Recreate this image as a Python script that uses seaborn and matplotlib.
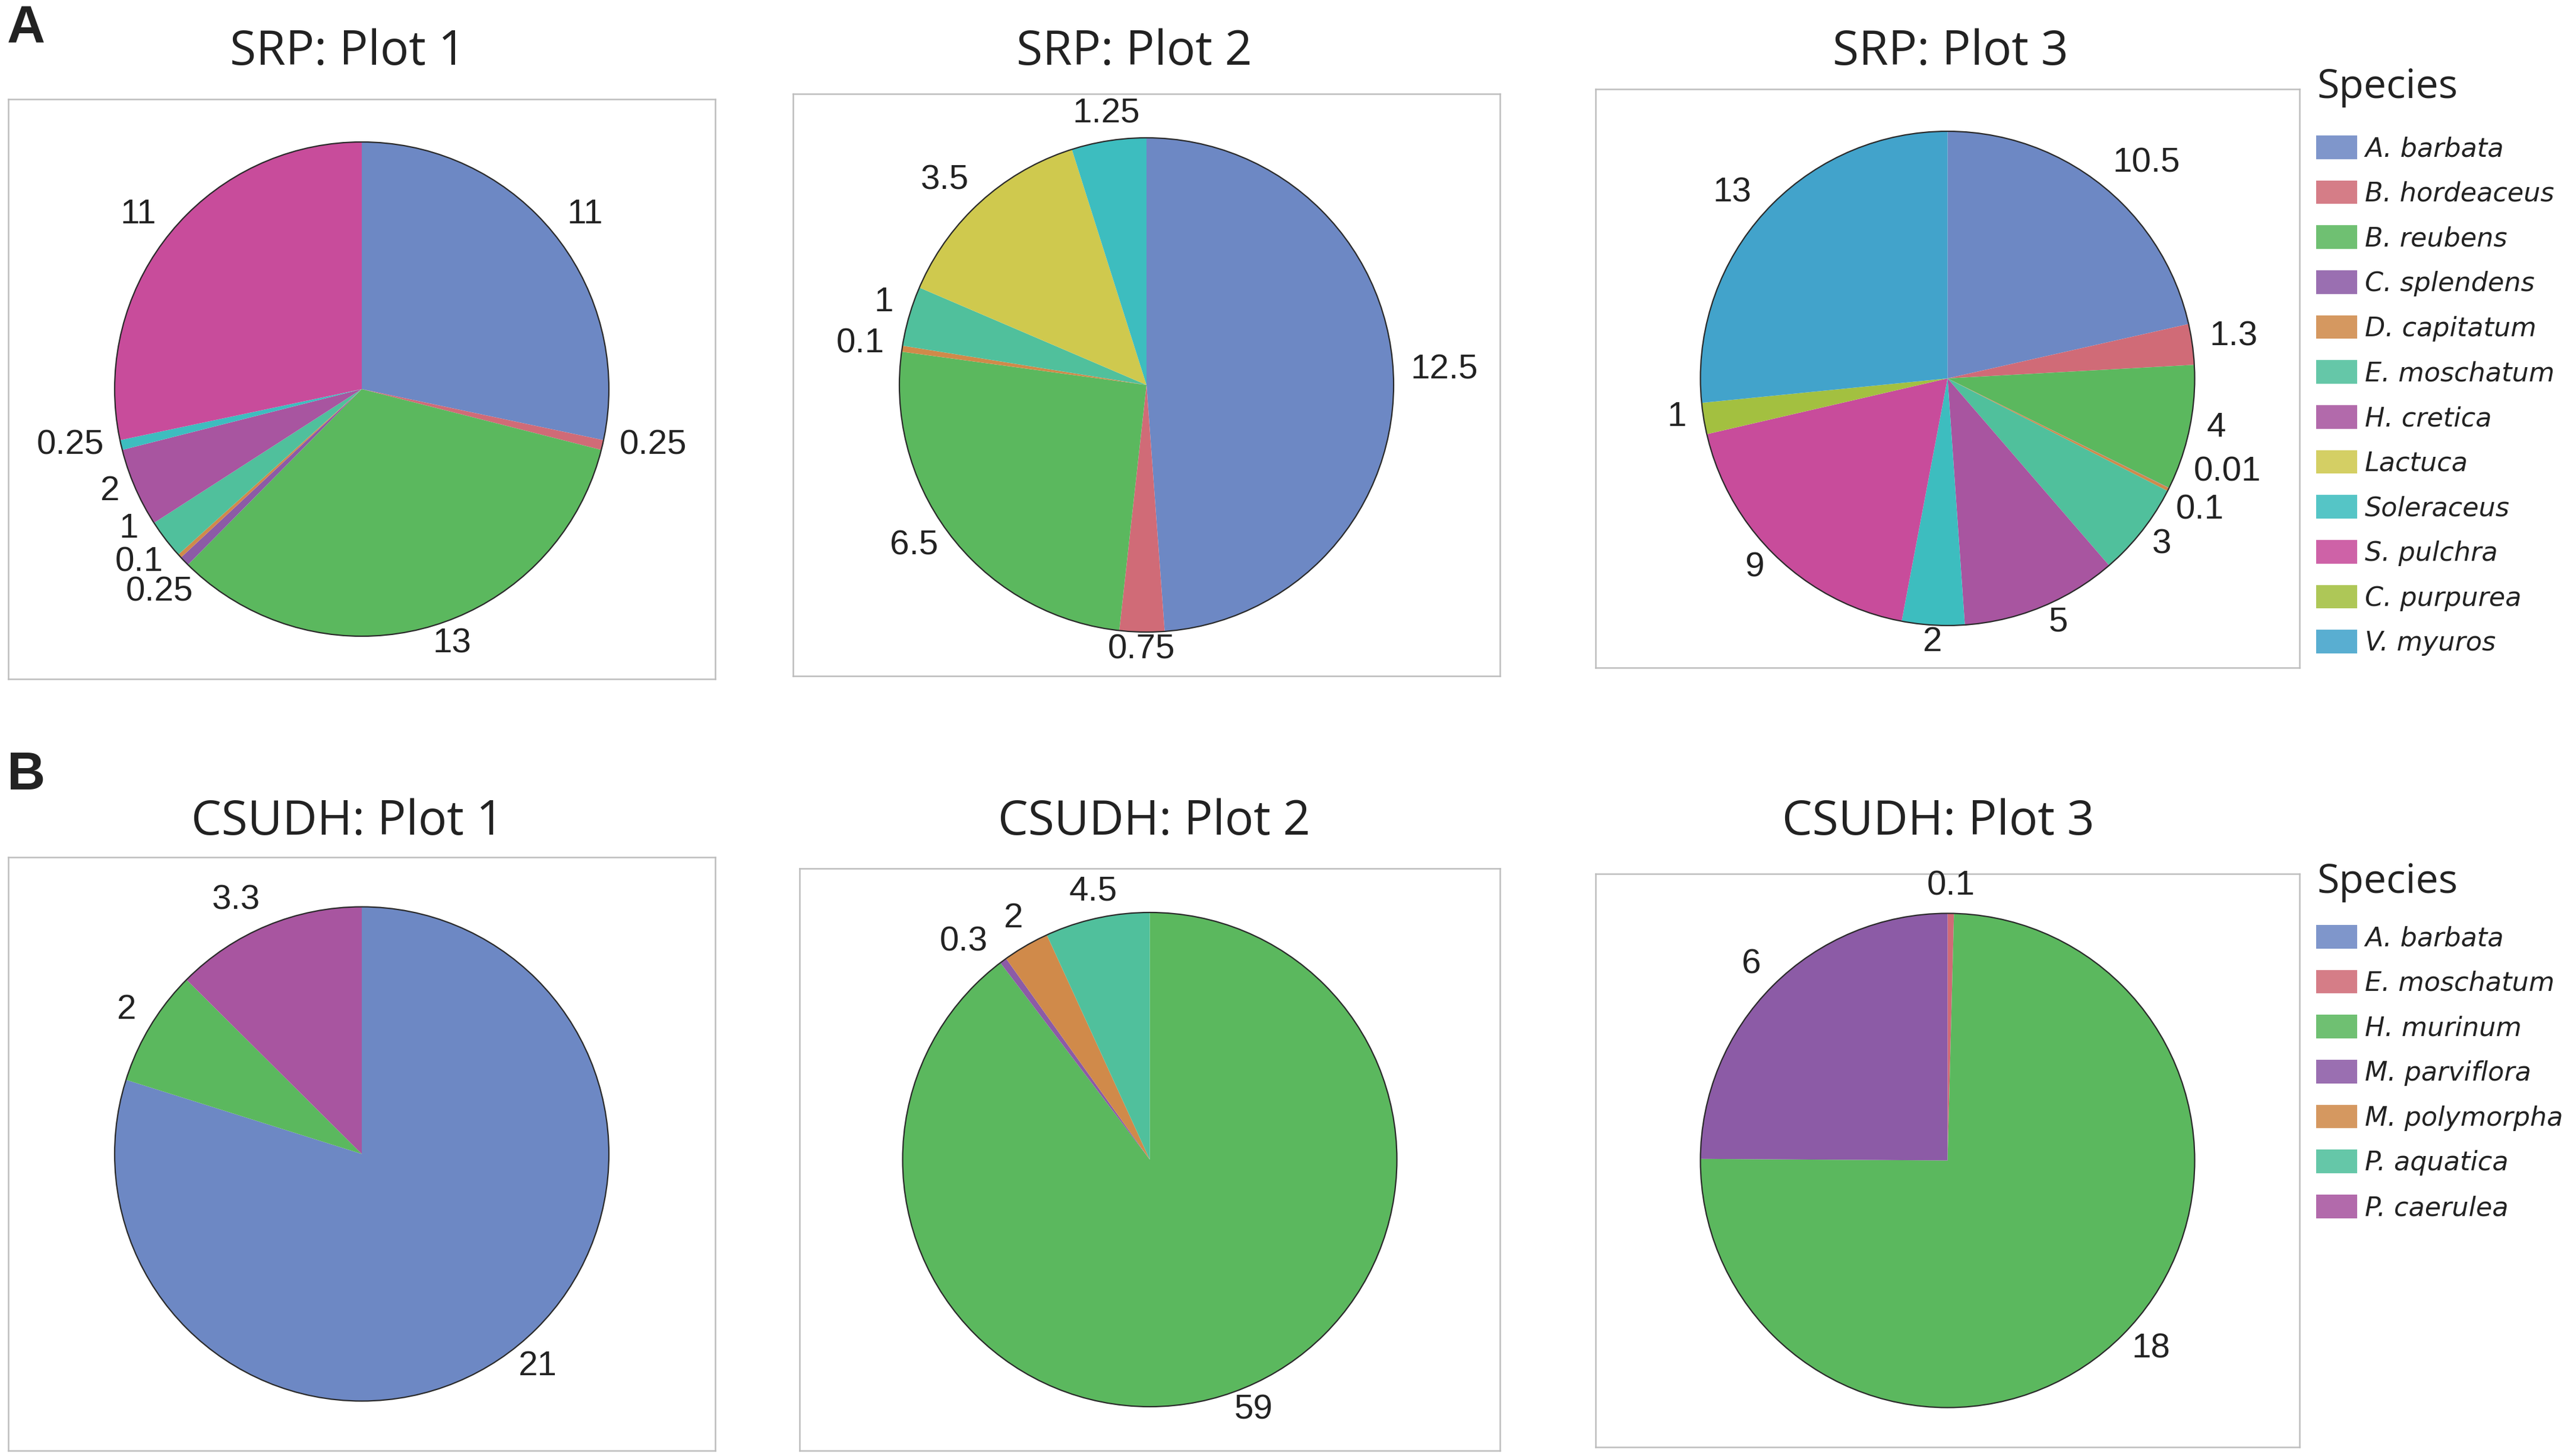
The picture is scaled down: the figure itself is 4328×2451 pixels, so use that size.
import numpy as np
import matplotlib
matplotlib.use("Agg")
import matplotlib.pyplot as plt
from matplotlib.patches import Patch, Circle
import seaborn as sns

sns.set_theme(style="white")

# ---------------------------------------------------------------
# Data: cover values per plot, in clockwise order from 12 o'clock
# ---------------------------------------------------------------
srp_species = ["A. barbata", "B. hordeaceus", "B. reubens", "C. splendens",
               "D. capitatum", "E. moschatum", "H. cretica", "Lactuca",
               "Soleraceus", "S. pulchra", "C. purpurea", "V. myuros"]
csudh_species = ["A. barbata", "E. moschatum", "H. murinum", "M. parviflora",
                 "M. polymorpha", "P. aquatica", "P. caerulea"]

srp1_species = ["A. barbata", "B. hordeaceus", "B. reubens", "C. splendens",
                "D. capitatum", "E. moschatum", "H. cretica", "Soleraceus",
                "S. pulchra"]
srp1_values = [11, 0.25, 13, 0.25, 0.1, 1, 2, 0.25, 11]

srp2_species = ["A. barbata", "B. hordeaceus", "B. reubens", "D. capitatum",
                "E. moschatum", "Lactuca", "Soleraceus"]
srp2_values = [12.5, 0.75, 6.5, 0.1, 1, 3.5, 1.25]

srp3_species = ["A. barbata", "B. hordeaceus", "B. reubens", "C. splendens",
                "D. capitatum", "E. moschatum", "H. cretica", "Soleraceus",
                "S. pulchra", "C. purpurea", "V. myuros"]
srp3_values = [10.5, 1.3, 4, 0.01, 0.1, 3, 5, 2, 9, 1, 13]

csudh1_species = ["A. barbata", "H. murinum", "P. caerulea"]
csudh1_values = [21, 2, 3.3]

csudh2_species = ["H. murinum", "M. parviflora", "M. polymorpha", "P. aquatica"]
csudh2_values = [59, 0.3, 2, 4.5]

csudh3_species = ["E. moschatum", "H. murinum", "M. parviflora"]
csudh3_values = [0.1, 18, 6]

titles = ["SRP: Plot 1", "SRP: Plot 2", "SRP: Plot 3",
          "CSUDH: Plot 1", "CSUDH: Plot 2", "CSUDH: Plot 3"]

# one shared palette, species take colours by their legend position
palette = sns.color_palette(["#6d88c4", "#d06b77", "#5bb85e", "#8c5ba6",
                             "#d08a4a", "#50c09c", "#a855a0", "#cfc94e",
                             "#3dbdbf", "#c84c9b", "#a3c040", "#42a3cb"])
srp_colors = dict(zip(srp_species, palette))
csudh_colors = dict(zip(csudh_species, palette))

# ---------------------------------------------------------------
# Layout (pixel boxes on a 4328 x 2451 canvas)
# ---------------------------------------------------------------
W, H = 4328, 2451
R_PX = 416  # pie radius in pixels

boxes = [(14, 167, 1204, 1143), (1335, 158, 2525, 1138), (2686, 150, 3871, 1124),
         (14, 1443, 1204, 2442), (1346, 1462, 2525, 2442), (2686, 1471, 3871, 2436)]
title_pos = [(585, 88), (1909, 88), (3283, 88),
             (585, 1384), (1943, 1384), (3263, 1384)]

TITLE_FONT = "Open Sans"
LABEL_FONT = "Liberation Sans"
TEXT = "#222222"

fig = plt.figure(figsize=(W / 100, H / 100), dpi=100)
fig.patch.set_facecolor("white")


def spread_angles(angles, gap):
    """Push label angles (decreasing order) apart so neighbours are >= gap deg."""
    groups = [[a] for a in angles]
    changed = True
    while changed:
        changed = False
        for i in range(len(groups) - 1):
            c1, n1 = np.mean(groups[i]), len(groups[i])
            c2, n2 = np.mean(groups[i + 1]), len(groups[i + 1])
            low1 = c1 - (n1 - 1) / 2 * gap
            high2 = c2 + (n2 - 1) / 2 * gap
            if low1 - high2 < gap - 1e-9:
                groups[i] = groups[i] + groups[i + 1]
                del groups[i + 1]
                changed = True
                break
    out = []
    for g in groups:
        c, n = np.mean(g), len(g)
        out += [c + ((n - 1) / 2 - k) * gap for k in range(n)]
    return out


def draw_pie(ax, species, values, colors, box):
    x0, y0, x1, y1 = box
    wedges, _ = ax.pie(values, colors=[colors[s] for s in species],
                       startangle=90, counterclock=False,
                       wedgeprops={"linewidth": 0})
    ax.add_patch(Circle((0, 0), 1, fill=False, edgecolor="#2a2a2a", lw=1.6))
    ax.set_aspect("auto")
    ax.set_xlim(-(x1 - x0) / 2 / R_PX, (x1 - x0) / 2 / R_PX)
    ax.set_ylim(-(y1 - y0) / 2 / R_PX, (y1 - y0) / 2 / R_PX)
    ax.set_frame_on(True)
    for sp in ax.spines.values():
        sp.set_visible(True)
        sp.set_color("#bdbdbd")
        sp.set_linewidth(1.8)
    ax.set_xticks([])
    ax.set_yticks([])

    # label angles, kept as a decreasing (clockwise) sequence
    mids_seq = []
    for w in wedges:
        m = (w.theta1 + w.theta2) / 2
        while mids_seq and m > mids_seq[-1]:
            m -= 360
        mids_seq.append(m)
    angles = spread_angles(mids_seq, 9.0)
    for v, a in zip(values, angles):
        x = 1.07 * np.cos(np.radians(a))
        y = 1.09 * np.sin(np.radians(a)) + 0.02
        if abs(x) < 0.25:
            ha = "center"
        else:
            ha = "left" if x > 0 else "right"
        ax.text(x, y, f"{v:g}", ha=ha, va="center", fontsize=42,
                family=LABEL_FONT, color=TEXT)


plots = [(srp1_species, srp1_values, srp_colors),
         (srp2_species, srp2_values, srp_colors),
         (srp3_species, srp3_values, srp_colors),
         (csudh1_species, csudh1_values, csudh_colors),
         (csudh2_species, csudh2_values, csudh_colors),
         (csudh3_species, csudh3_values, csudh_colors)]

for (sp, vals, cols), box, title, tp in zip(plots, boxes, titles, title_pos):
    x0, y0, x1, y1 = box
    ax = fig.add_axes([x0 / W, 1 - y1 / H, (x1 - x0) / W, (y1 - y0) / H])
    draw_pie(ax, sp, vals, cols, box)
    fig.text(tp[0] / W, 1 - tp[1] / H, title, ha="center", va="center",
             fontsize=58, family=TITLE_FONT, color=TEXT)

# panel letters
fig.text(12 / W, 1 - 50 / H, "A", ha="left", va="center", fontsize=64,
         family=LABEL_FONT, weight="bold", color=TEXT)
fig.text(12 / W, 1 - 1306 / H, "B", ha="left", va="center", fontsize=64,
         family=LABEL_FONT, weight="bold", color=TEXT)


def add_legend(species, colors, title_px, top_px):
    fig.text(3900 / W, 1 - title_px / H, "Species", ha="left", va="center",
             fontsize=49, family=TITLE_FONT, color=TEXT)
    handles = [Patch(facecolor=colors[s], edgecolor="none", alpha=0.88) for s in species]
    leg = fig.legend(handles, species, loc="upper left",
                     bbox_to_anchor=(3899 / W, 1 - top_px / H),
                     frameon=False,
                     prop={"family": "DejaVu Sans", "style": "italic", "size": 32},
                     handlelength=1.55, handleheight=1.0, handletextpad=0.3,
                     labelspacing=0.71, borderpad=0, borderaxespad=0)
    for t in leg.get_texts():
        t.set_color(TEXT)
    return leg


add_legend(srp_species, srp_colors, 147, 228)
add_legend(csudh_species, csudh_colors, 1485, 1557)

fig.savefig("out.png", dpi=100, facecolor="white")
